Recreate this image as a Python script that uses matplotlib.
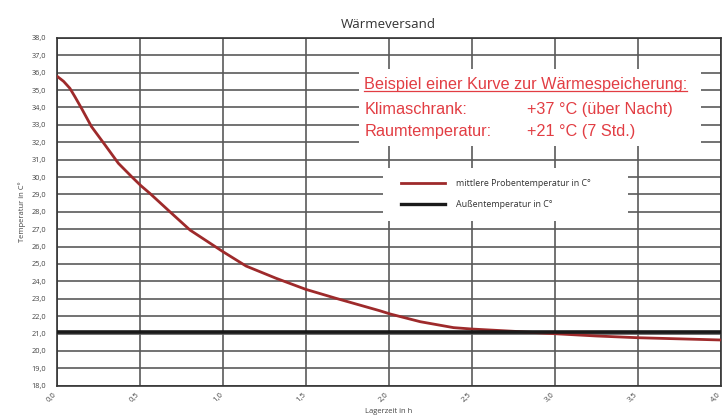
import matplotlib
matplotlib.use("Agg")
import matplotlib.pyplot as plt
from matplotlib.patches import Rectangle
from matplotlib.lines import Line2D
from matplotlib.ticker import FuncFormatter
from matplotlib.transforms import ScaledTranslation

# Data
time_h = [0.0, 0.04, 0.078, 0.108, 0.148, 0.208, 0.29, 0.37, 0.45, 0.506, 0.56,
          0.681, 0.802, 1.0, 1.14, 1.32, 1.5, 1.68, 1.946, 2.01, 2.19, 2.39,
          2.5, 2.75, 3.0, 3.25, 3.5, 4.0]
probe_temp = [35.8, 35.5, 35.1, 34.62, 33.95, 32.9, 31.84, 30.79, 30.02, 29.5, 29.06,
              28.0, 26.95, 25.71, 24.88, 24.18, 23.54, 23.03, 22.31, 22.12, 21.68, 21.34,
              21.26, 21.13, 20.99, 20.86, 20.76, 20.63]
outside_temp = 21.08
x_ticks = [0.0, 0.5, 1.0, 1.5, 2.0, 2.5, 3.0, 3.5, 4.0]
y_ticks = list(range(18, 39))

title = "Wärmeversand"
xlabel = "Lagerzeit in h"
ylabel = "Temperatur in C°"
legend_labels = ["mittlere Probentemperatur in C°", "Außentemperatur in C°"]
note_title = "Beispiel einer Kurve zur Wärmespeicherung:"
note_rows = [("Klimaschrank:", "+37 °C (über Nacht)"), ("Raumtemperatur:", "+21 °C (7 Std.)")]

plt.rcParams['font.family'] = ['Open Sans', 'DejaVu Sans']

fig = plt.figure(figsize=(7.23, 4.16), dpi=100)
ax = fig.add_axes([0.0788, 0.0728, 0.9179, 0.8361])

ax.set_xlim(0, 4.0)
ax.set_ylim(18, 38)
ax.set_xticks(x_ticks)
ax.set_yticks(y_ticks)
fmt = FuncFormatter(lambda v, p: f"{v:.1f}".replace(".", ","))
ax.xaxis.set_major_formatter(fmt)
ax.yaxis.set_major_formatter(fmt)
ax.tick_params(length=0, labelcolor="#444444")
ax.tick_params(axis="y", labelsize=5.3, pad=8)
ax.tick_params(axis="x", labelsize=5.5, pad=4)
offset = ScaledTranslation(-3.5 / 100, 0, fig.dpi_scale_trans)
for lab in ax.get_xticklabels():
    lab.set_rotation(45)
    lab.set_ha("right")
    lab.set_va("top")
    lab.set_rotation_mode("anchor")
    lab.set_transform(lab.get_transform() + offset)
ax.grid(True, color="#5a5a5a", linewidth=1.2, zorder=0)
ax.set_axisbelow(True)
for s in ax.spines.values():
    s.set_color("#333333")
    s.set_linewidth(1.2)

ax.plot(time_h, probe_temp, color="#9e2a2b", linewidth=2.0, zorder=3,
        solid_capstyle="round", solid_joinstyle="round")
ax.axhline(outside_temp, color="#1a1a1a", linewidth=2.6, zorder=3)

ax.set_title(title, fontsize=9.5, color="#333333", pad=7)
ax.set_xlabel(xlabel, fontsize=5.5, color="#444444", labelpad=3)
ax.set_ylabel(ylabel, fontsize=5.5, color="#444444", labelpad=4)

# Legend box (white)
ax.add_patch(Rectangle((0.491, 0.4735), 0.369, 0.1525, transform=ax.transAxes,
                       facecolor="white", edgecolor="none", zorder=2))
handles = [Line2D([], [], color="#9e2a2b", linewidth=2.0),
           Line2D([], [], color="#1a1a1a", linewidth=2.4)]
ax.legend(handles, legend_labels, loc="center left", bbox_to_anchor=(0.518, 0.552),
          frameon=False, fontsize=6.4, handlelength=5.0, handletextpad=1.2,
          labelspacing=1.35, labelcolor="#333333", borderpad=0, borderaxespad=0)

# Annotation box (white)
ax.add_patch(Rectangle((0.455, 0.689), 0.5155, 0.221, transform=ax.transAxes,
                       facecolor="white", edgecolor="none", zorder=2))
red = "#e23d43"
fam = ["Liberation Sans", "DejaVu Sans"]
t = ax.text(0.463, 0.8646, note_title, transform=ax.transAxes, fontsize=11.7,
            color=red, va="center", ha="left", family=fam, zorder=4)
fig.canvas.draw()
bb = t.get_window_extent().transformed(ax.transAxes.inverted())
ax.add_line(Line2D([bb.x0, bb.x1], [bb.y0 + 0.003, bb.y0 + 0.003], transform=ax.transAxes,
                   color=red, linewidth=0.9, zorder=4))
row_y = [0.7947, 0.7303]
for (k, v), yy in zip(note_rows, row_y):
    ax.text(0.463, yy, k, transform=ax.transAxes, fontsize=11.7, color=red,
            va="center", ha="left", family=fam, zorder=4)
    ax.text(0.708, yy, v, transform=ax.transAxes, fontsize=11.7, color=red,
            va="center", ha="left", family=fam, zorder=4)

fig.savefig("out.png", dpi=100)
